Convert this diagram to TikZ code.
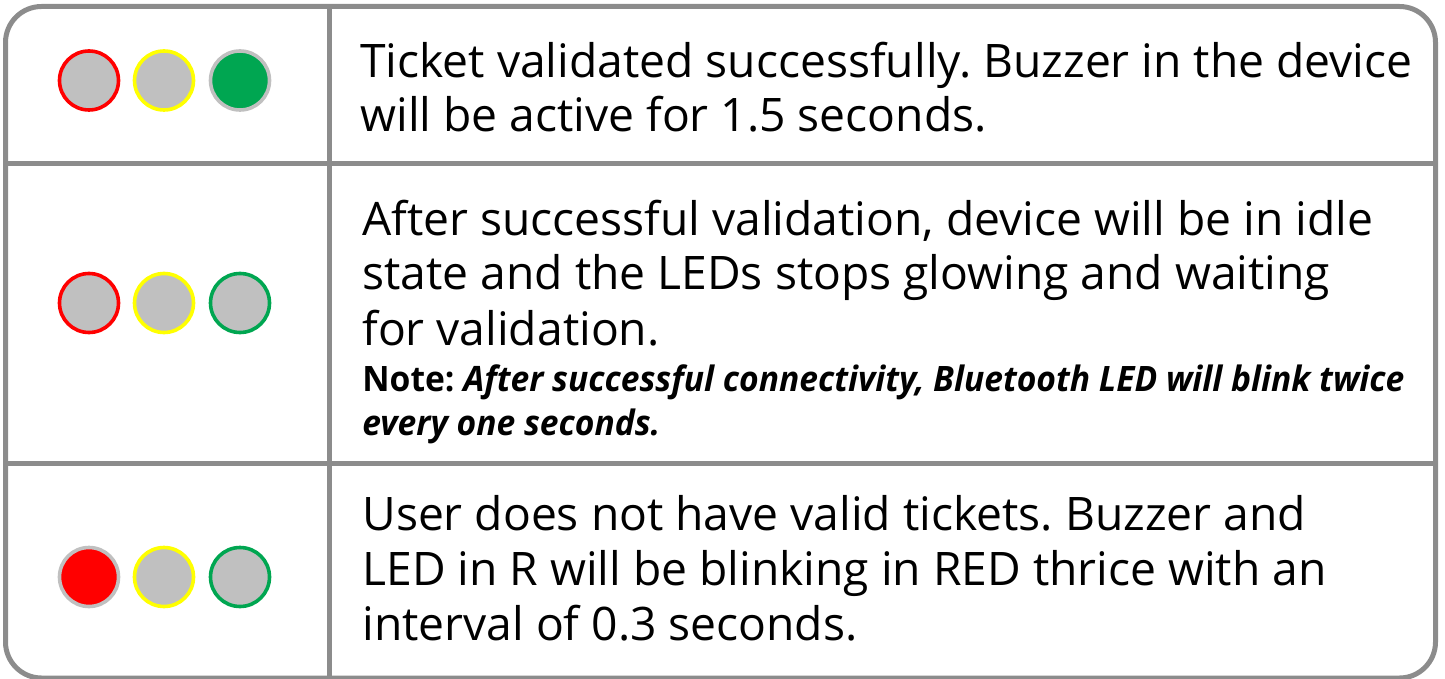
\documentclass[tikz,border=0pt]{standalone}
\usepackage{fontspec}
\setmainfont{Open Sans}
\newfontfamily\notefont[FakeStretch=0.96]{Open Sans}
\definecolor{frame}{HTML}{8C8C8C}
\definecolor{ledoff}{HTML}{C0C0C0}
\definecolor{ledred}{HTML}{FF0000}
\definecolor{ledyel}{HTML}{FFFF00}
\definecolor{ledgrn}{HTML}{00A651}
\frenchspacing
\begin{document}
\begin{tikzpicture}[x=0.5pt,y=-0.5pt,
  frameline/.style={draw=frame,line width=2.5pt},
  led/.style={circle,minimum size=29.5pt,inner sep=0pt,line width=1.8pt},
  body/.style={anchor=base west,inner sep=0pt,font=\fontsize{23.1}{27}\selectfont},
  notetxt/.style={anchor=base west,inner sep=0pt,font=\notefont\fontsize{17.5}{20}\selectfont}]
\useasboundingbox (0,0) rectangle (1445,679);
\draw[frameline,rounded corners=18pt] (5.5,6.5) rectangle (1435.5,678);
\draw[frameline] (5.5,163.5) -- (1435.5,163.5);
\draw[frameline] (5.5,463.5) -- (1435.5,463.5);
\draw[frameline] (329,6.5) -- (329,679);
% row 1
\node[led,draw=ledred,fill=ledoff] (r1a) at (89,80.5) {};
\node[led,draw=ledyel,fill=ledoff] (r1b) at (164,80.5) {};
\node[led,draw=ledoff,fill=ledgrn] (r1c) at (240,80.5) {};
\node[body] (t1a) at (360,78) {Ticket validated successfully. Buzzer in the device};
\node[body] (t1b) at (360,132) {will be active for 1.5 seconds.};
% row 2
\node[led,draw=ledred,fill=ledoff] (r2a) at (89,303) {};
\node[led,draw=ledyel,fill=ledoff] (r2b) at (164,303) {};
\node[led,draw=ledgrn,fill=ledoff] (r2c) at (240,303) {};
\node[body] (t2a) at (362,235) {After successful validation, device will be in idle};
\node[body] (t2b) at (362,290) {state and the LEDs stops glowing and waiting};
\node[body] (t2c) at (362,345) {for validation.};
\node[notetxt] (n1) at (362,391) {\textbf{Note:} \textbf{\itshape After successful connectivity, Bluetooth LED will blink twice}};
\node[notetxt] (n2) at (362,435) {\textbf{\itshape every one seconds.}};
% row 3
\node[led,draw=ledoff,fill=ledred] (r3a) at (89,577) {};
\node[led,draw=ledyel,fill=ledoff] (r3b) at (164,577) {};
\node[led,draw=ledgrn,fill=ledoff] (r3c) at (240,577) {};
\node[body] (t3a) at (362,530) {User does not have valid tickets. Buzzer and};
\node[body] (t3b) at (362,585) {LED in R will be blinking in RED thrice with an};
\node[body] (t3c) at (362,640) {interval of 0.3 seconds.};
\end{tikzpicture}
\end{document}
